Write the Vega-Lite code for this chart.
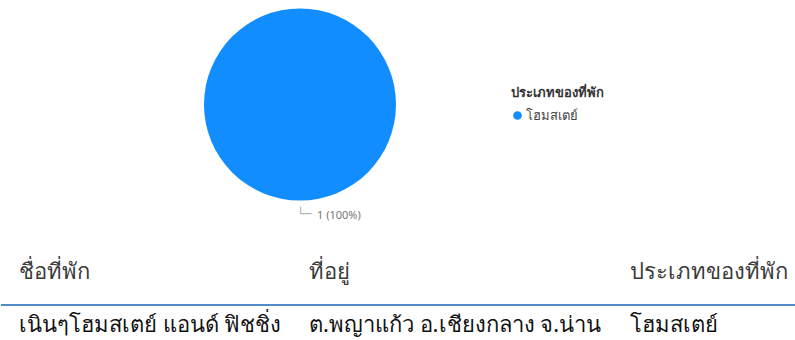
{
  "$schema": "https://vega.github.io/schema/vega-lite/v6.json",
  "padding": 0,
  "spacing": 0,
  "bounds": "flush",
  "background": "white",
  "config": {"view": {"stroke": null}, "font": "Noto Sans", "concat": {"spacing": 0}},
  "resolve": {"scale": {"color": "independent", "y": "independent", "x": "independent"}},
  "vconcat": [
    {
      "width": 598,
      "height": 209,
      "data": {"values": [{"type": "โฮมสเตย์", "count": 1, "label": "1 (100%)"}]},
      "layer": [
        {
          "mark": {"type": "arc", "outerRadius": 96},
          "encoding": {
            "theta": {"field": "count", "type": "quantitative", "stack": true},
            "color": {
              "field": "type",
              "type": "nominal",
              "scale": {"range": ["#118DFF"]},
              "legend": {
                "title": "ประเภทของที่พัก",
                "orient": "none",
                "legendX": 510,
                "legendY": 87,
                "titleFontSize": 13,
                "titleFontWeight": "bold",
                "titleColor": "#333333",
                "titleLineHeight": 18,
                "labelFontSize": 13,
                "labelColor": "#444444",
                "symbolType": "circle",
                "symbolSize": 75,
                "symbolStrokeWidth": 0,
                "symbolOpacity": 1,
                "labelOffset": 2,
                "titlePadding": 9
              }
            }
          }
        },
        {
          "mark": {"type": "text", "radius": 113.5, "dx": -3, "align": "left", "baseline": "alphabetic", "font": "DejaVu Sans Mono", "fontSize": 12, "fill": "#aaaaaa", "text": "└─"},
          "encoding": {
            "theta": {"field": "count", "type": "quantitative", "stack": true}
          }
        },
        {
          "mark": {"type": "text", "radius": 111, "dx": 17, "align": "left", "baseline": "middle", "fontSize": 11, "fill": "#777777"},
          "encoding": {
            "theta": {"field": "count", "type": "quantitative", "stack": true},
            "text": {"field": "label", "type": "nominal"}
          }
        }
      ]
    },
    {
      "width": 795,
      "height": 131,
      "data": {
        "values": [
          {"row": 0, "col": 0, "text": "ชื่อที่พัก"},
          {"row": 0, "col": 1, "text": "ที่อยู่"},
          {"row": 0, "col": 2, "text": "ประเภทของที่พัก"},
          {"row": 1, "col": 0, "text": "เนินๆโฮมสเตย์ แอนด์ ฟิชชิ่ง"},
          {"row": 1, "col": 1, "text": "ต.พญาแก้ว อ.เชียงกลาง จ.น่าน"},
          {"row": 1, "col": 2, "text": "โฮมสเตย์"}
        ]
      },
      "layer": [
        {
          "mark": {"type": "rule", "stroke": "#4f8cc9", "strokeWidth": 2, "yOffset": 33},
          "encoding": {"y": {"datum": 0, "type": "quantitative", "scale": {"domain": [0, 1], "range": [63, 116]}, "axis": null}}
        },
        {
          "mark": {"type": "text", "align": "left", "baseline": "middle", "fontSize": 22},
          "encoding": {
            "x": {"field": "col", "type": "quantitative", "scale": {"domain": [0, 1, 2], "range": [18, 308, 629]}, "axis": null},
            "y": {"field": "row", "type": "quantitative", "scale": {"domain": [0, 1], "range": [63, 116]}, "axis": null},
            "text": {"field": "text", "type": "nominal"},
            "color": {"condition": {"test": "datum.row == 0", "value": "#3a3a3a"}, "value": "#111111"},
            "fontWeight": {"condition": {"test": "datum.row == 0", "value": "normal"}, "value": "bold"}
          }
        }
      ]
    }
  ]
}
